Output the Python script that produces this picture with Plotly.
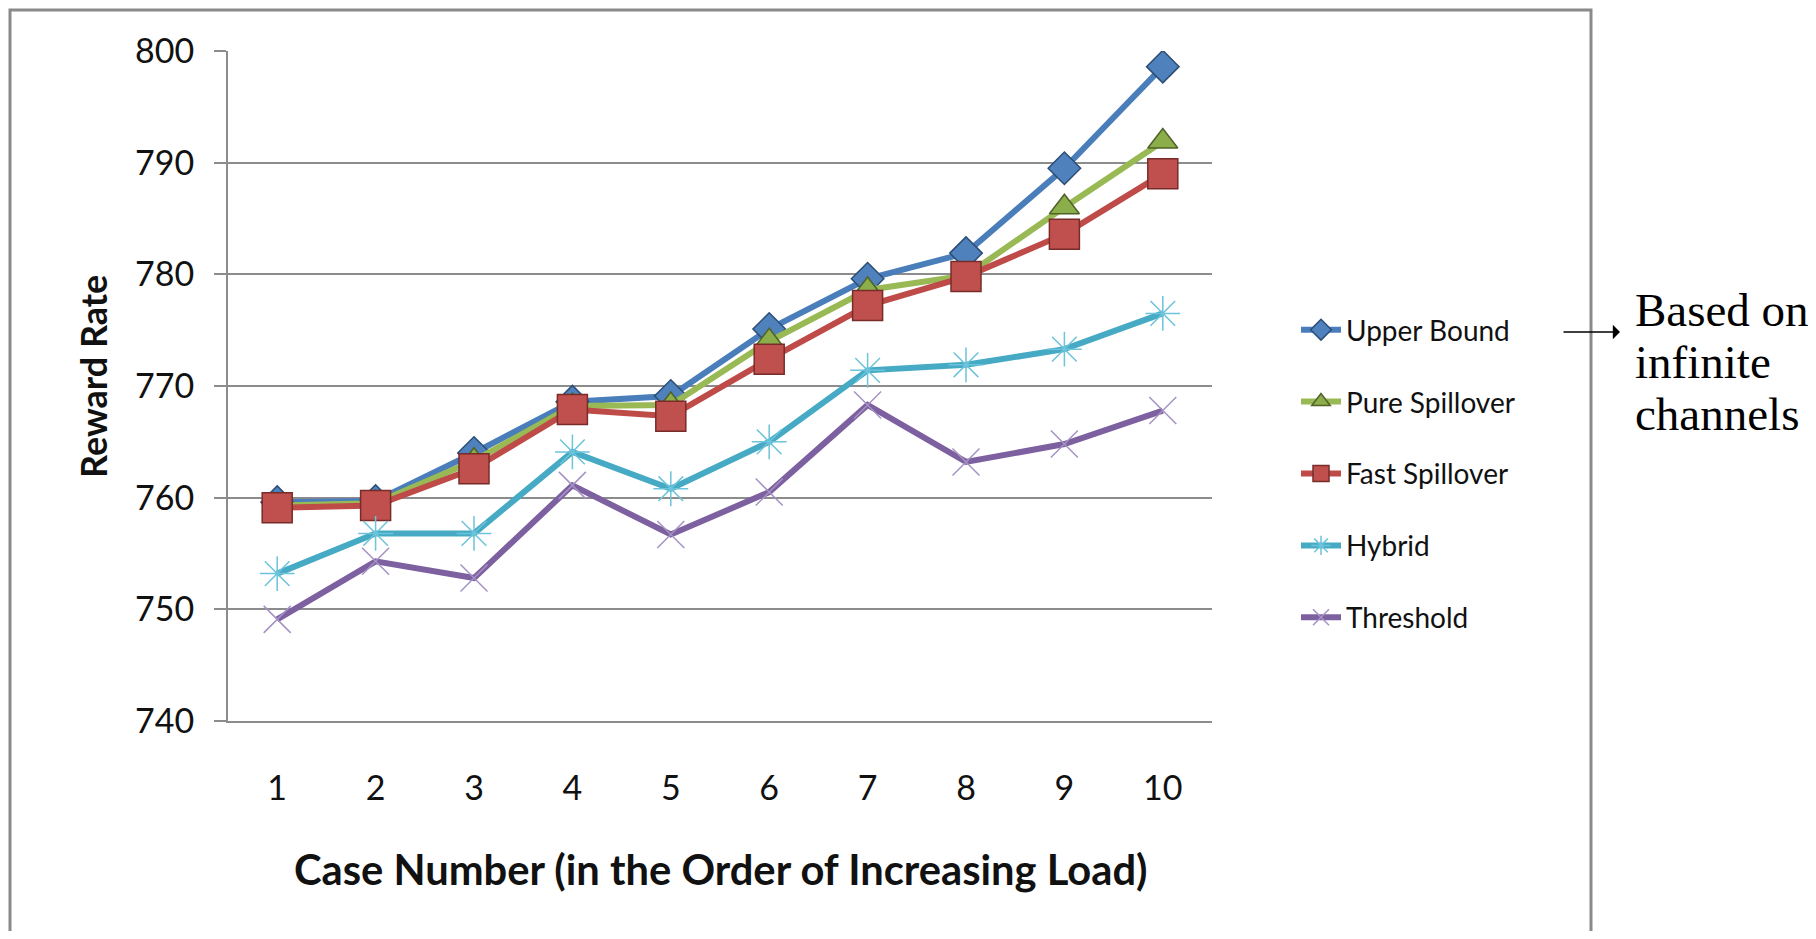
import plotly.graph_objects as go

cases = [1, 2, 3, 4, 5, 6, 7, 8, 9, 10]
upper_bound = [759.6, 759.7, 764.0, 768.6, 769.1, 775.1, 779.6, 781.9, 789.5, 798.6]
pure_spillover = [759.3, 759.5, 763.3, 768.2, 768.3, 774.0, 778.6, 779.9, 786.0, 791.9]
fast_spillover = [759.1, 759.3, 762.6, 767.9, 767.3, 772.4, 777.2, 779.8, 783.6, 789.0]
hybrid = [753.2, 756.8, 756.8, 764.1, 760.8, 765.0, 771.4, 771.9, 773.3, 776.5]
threshold = [749.1, 754.3, 752.8, 761.1, 756.7, 760.5, 768.3, 763.2, 764.8, 767.8]
y_ticks = [740, 750, 760, 770, 780, 790, 800]

series = [
    ("Upper Bound", upper_bound, "#4A7EBB", dict(symbol="diamond", size=25, color="#4F81BD",
                                                    line=dict(color="#2C4D75", width=1.5))),
    ("Pure Spillover", pure_spillover, "#98B954", dict(symbol="triangle-up", size=26, color="#8CAE4A",
                                                         line=dict(color="#4F6228", width=1.5))),
    ("Fast Spillover", fast_spillover, "#BE4B48", dict(symbol="square", size=30, color="#C0504D",
                                                         line=dict(color="#772C2A", width=1.5))),
    ("Hybrid", hybrid, "#46AAC5", dict(symbol="asterisk-open", size=29, color="#6CC4DA",
                                         line=dict(color="#6CC4DA", width=1.5))),
    ("Threshold", threshold, "#7D60A0", dict(symbol="x-thin-open", size=27, color="#A592C4",
                                               line=dict(color="#A592C4", width=1.5))),
]

fig = go.Figure()
for i, (name, vals, col, mk) in enumerate(series):
    fig.add_trace(go.Scatter(
        x=cases, y=vals, name=name, mode="lines+markers",
        line=dict(color=col, width=6), marker=mk, legendgroup=f"g{i}",
    ))

# page body has an 8px margin; figure sized so the page fits the window
OFF = 8
W, H = 1816 - 2 * OFF, 939 - 2 * OFF
# plot area in window coordinates
L, R, T, B = 228, 1212, 51, 721


def px(x):
    return (x - L) / (R - L)


def py(y):
    return (B - y) / (B - T)


grey = "#8C8C8C"
txt = "#111111"
fig.update_layout(
    width=W, height=H,
    margin=dict(l=L - OFF, r=W - (R - OFF), t=T - OFF, b=H - (B - OFF), autoexpand=False),
    paper_bgcolor="white", plot_bgcolor="white",
    showlegend=True,
    legend=dict(x=px(1296), y=py(305), xanchor="left", yanchor="top",
                font=dict(family="Lato", size=28, color=txt),
                tracegroupgap=32.5, bgcolor="rgba(0,0,0,0)", itemwidth=40),
    xaxis=dict(range=[0.5, 10.5], tickvals=cases, ticktext=[str(c) for c in cases],
               showgrid=False, zeroline=False, showline=True, linecolor=grey, linewidth=2,
               ticks="", ticklabelstandoff=36,
               tickfont=dict(family="Lato", size=34, color=txt)),
    yaxis=dict(range=[740, 800], tickvals=y_ticks, showgrid=True, gridcolor=grey, gridwidth=2,
               zeroline=False, showline=True, linecolor=grey, linewidth=2,
               ticks="outside", ticklen=12, tickcolor=grey, tickwidth=2, ticklabelstandoff=13,
               tickfont=dict(family="Lato", size=34, color=txt)),
)

# axis titles
fig.add_annotation(text="<b>Case Number (in the Order of Increasing Load)</b>",
                   xref="paper", yref="paper", x=px(721), y=py(869),
                   xanchor="center", yanchor="middle", showarrow=False,
                   font=dict(family="Lato", size=41.7, color=txt))
fig.add_annotation(text="<b>Reward Rate</b>", textangle=-90,
                   xref="paper", yref="paper", x=px(93), y=py(377),
                   xanchor="center", yanchor="middle", showarrow=False,
                   font=dict(family="Lato", size=36, color=txt))

# outer chart border
fig.add_shape(type="rect", xref="paper", yref="paper",
              x0=px(10), x1=px(1591), y0=py(960), y1=py(10),
              line=dict(color="#8a8a8a", width=3), fillcolor="rgba(0,0,0,0)", layer="below")

# side note
for t, yy in [("Based on", 310), ("infinite", 362), ("channels", 414)]:
    fig.add_annotation(text=t, xref="paper", yref="paper", x=px(1633), y=py(yy),
                       xanchor="left", yanchor="middle", showarrow=False,
                       font=dict(family="Liberation Serif", size=47, color="black"))

fig.add_annotation(text="", xref="paper", yref="paper", x=px(1620), y=py(332),
                   ax=-58, ay=0, axref="pixel", ayref="pixel", showarrow=True,
                   arrowhead=1, arrowsize=1.6, arrowwidth=1.5, arrowcolor="black")

fig.write_html("out.html")
